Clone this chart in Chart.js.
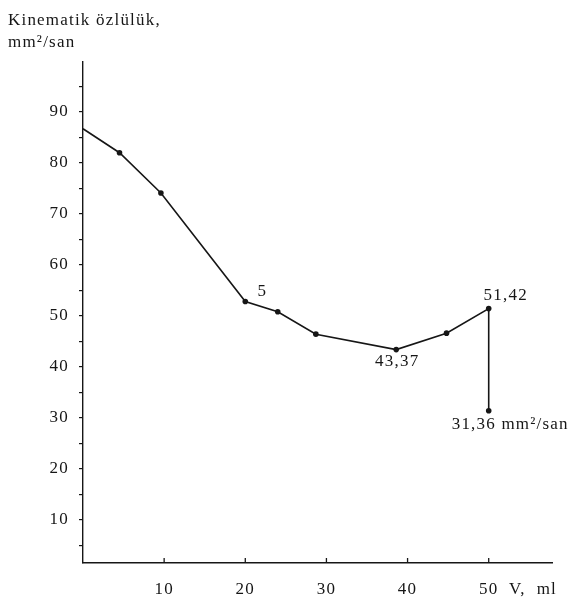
<!DOCTYPE html>
<html>
<head>
<meta charset="utf-8">
<script src="https://cdn.jsdelivr.net/npm/chart.js@4.4.1/dist/chart.umd.min.js"></script>
<style>
  html, body { margin: 0; padding: 0; background: #ffffff; }
  #wrap { width: 580px; height: 600px; position: relative; }
</style>
</head>
<body>
<div id="wrap"><canvas id="chart" width="580" height="600"></canvas></div>
<script>
// Volume of added solvent, ml
const volumes = [0, 4.5, 9.6, 20, 24, 28.7, 38.6, 44.8, 50, 50];
// Kinematic viscosity, mm²/s
const viscosity = [86.7, 82.0, 74.1, 52.8, 50.8, 46.4, 43.37, 46.6, 51.42, 31.36];
// Axis tick labels
const xTickValues = [10, 20, 30, 40, 50];
const yTickValues = [5, 10, 15, 20, 25, 30, 35, 40, 45, 50, 55, 60, 65, 70, 75, 80, 85, 90, 95];
const yLabelValues = [10, 20, 30, 40, 50, 60, 70, 80, 90];

const fmt = v => v.toFixed(2).replace('.', ',');
const pointNotes = ['', '', '', '5', '', '', fmt(viscosity[6]), '', fmt(viscosity[8]), fmt(viscosity[9]) + ' mm²/san'];

const INK = '#161616';
const SERIF = '"Liberation Serif", "Times New Roman", serif';
const FONT_SIZE = 17;

// Slightly widened lettering for every text drawn on the canvas
const spacingPlugin = {
  id: 'spacing',
  beforeDraw(chart) { chart.ctx.letterSpacing = '1.2px'; }
};

// Axis captions, inward x tick marks and point notes
const decorPlugin = {
  id: 'decor',
  afterDraw(chart) {
    const ctx = chart.ctx;
    const xs = chart.scales.x, ys = chart.scales.y;
    ctx.save();
    ctx.fillStyle = INK;
    ctx.strokeStyle = INK;
    ctx.font = FONT_SIZE + 'px ' + SERIF;
    ctx.textBaseline = 'alphabetic';
    ctx.textAlign = 'left';
    ctx.fillText('Kinematik özlülük,', 8, 25);
    ctx.fillText('mm²/san', 8, 47);

    ctx.textBaseline = 'middle';
    ctx.fillText('V,  ml', 509, 590);

    // short tick marks rising from the x axis
    ctx.lineWidth = 1.3;
    xTickValues.forEach(v => {
      const px = xs.getPixelForValue(v);
      ctx.beginPath();
      ctx.moveTo(px, ys.bottom);
      ctx.lineTo(px, ys.bottom - 5);
      ctx.stroke();
    });

    // notes beside the measured points
    const meta = chart.getDatasetMeta(0);
    const offsets = {
      3: { dx: 17, dy: -10, align: 'center' },
      6: { dx: 1, dy: 12, align: 'center' },
      8: { dx: 17, dy: -13, align: 'center' },
      9: { dx: -37, dy: 14, align: 'left' }
    };
    pointNotes.forEach((txt, i) => {
      if (!txt) return;
      const el = meta.data[i];
      const o = offsets[i];
      ctx.textAlign = o.align;
      ctx.fillText(txt, el.x + o.dx, el.y + o.dy);
    });
    ctx.restore();
  }
};

new Chart(document.getElementById('chart'), {
  type: 'line',
  data: {
    datasets: [{
      data: volumes.map((v, i) => ({ x: v, y: viscosity[i] })),
      borderColor: INK,
      borderWidth: 1.6,
      backgroundColor: INK,
      pointBackgroundColor: INK,
      pointBorderColor: INK,
      pointRadius: volumes.map((v, i) => (i === 0 ? 0 : 2.8)),
      pointBorderWidth: 0,
      tension: 0,
      fill: false,
      clip: false
    }]
  },
  options: {
    responsive: false,
    animation: false,
    events: [],
    layout: { padding: { top: 62, right: 28, left: 0, bottom: 0 } },
    plugins: { legend: { display: false }, tooltip: { enabled: false } },
    scales: {
      x: {
        type: 'linear',
        min: 0,
        max: 57.8,
        afterBuildTicks: s => { s.ticks = xTickValues.map(v => ({ value: v })); },
        afterFit: s => { s.height = 37; },
        grid: { display: false, drawTicks: false },
        border: { display: true, color: INK, width: 1.4, dash: [12, 3] },
        ticks: {
          color: INK,
          padding: 16,
          maxRotation: 0,
          font: { family: SERIF, size: FONT_SIZE }
        }
      },
      y: {
        type: 'linear',
        min: 1.5,
        max: 99.8,
        afterBuildTicks: s => { s.ticks = yTickValues.map(v => ({ value: v })); },
        afterFit: s => { s.width = 83; },
        grid: { display: true, drawOnChartArea: false, drawTicks: true, tickLength: 4, color: INK, lineWidth: 1.2 },
        border: { display: true, color: INK, width: 1.4, dash: [12, 3] },
        ticks: {
          color: INK,
          padding: 10,
          font: { family: SERIF, size: FONT_SIZE },
          callback: v => (yLabelValues.includes(v) ? String(v) : '')
        }
      }
    }
  },
  plugins: [spacingPlugin, decorPlugin]
});
</script>
</body>
</html>
